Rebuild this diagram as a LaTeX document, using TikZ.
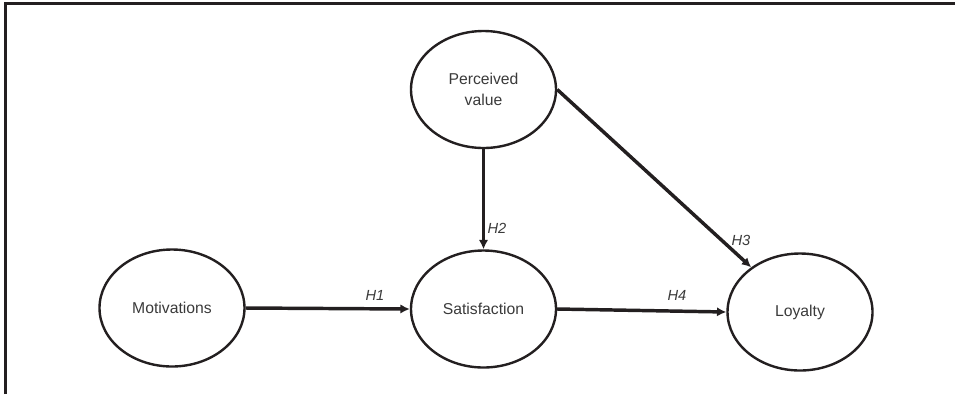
\documentclass[tikz,border=0pt]{standalone}
\usepackage{fontspec}
\setmainfont{Liberation Sans}
\usepackage{xcolor}
\usetikzlibrary{positioning,arrows.meta,shapes.geometric}

\definecolor{inkline}{HTML}{231F20}
\definecolor{inktext}{HTML}{3A3A3A}

\tikzset{
  construct/.style={ellipse, draw=inkline, line width=1.8pt, inner sep=0pt,
    minimum width=108.75pt, minimum height=87.75pt, align=center,
    text=inktext, font=\fontsize{11.8}{15.8}\selectfont},
  path/.style={draw=inkline, line width=2.6pt,
    -{Latex[length=7pt,width=7pt]}},
  hyp/.style={text=inktext, font=\fontsize{11}{13}\selectfont\itshape}
}

\begin{document}
\begin{tikzpicture}[x=0.75pt,y=-0.75pt]
  % Canvas and frame
  \useasboundingbox (0,0) rectangle (955,394);
  \draw[inkline, line width=2.4pt] (5.5,394) |- (955,3.5);

  % Constructs
  \node[construct] (motiv) at (172,308) {Motivations};
  \node[construct] (satis) at (483.5,309) {Satisfaction};
  \node[construct] (loyal) at (800,312) {Loyalty};
  \node[construct] (value) at (483.5,89.5) {Perceived\\value};

  % Hypothesised paths
  \draw[path] (motiv.east) -- (satis.west);
  \draw[path] (value.south) -- (satis.north);
  \draw[path] (value.east) -- (loyal);
  \draw[path] (satis.east) -- (loyal.west);

  % Path labels
  \node[hyp] (h1) at (375,295) {H1};
  \node[hyp] (h2) at (497,228) {H2};
  \node[hyp] (h3) at (741,240) {H3};
  \node[hyp] (h4) at (677,295) {H4};
\end{tikzpicture}
\end{document}
